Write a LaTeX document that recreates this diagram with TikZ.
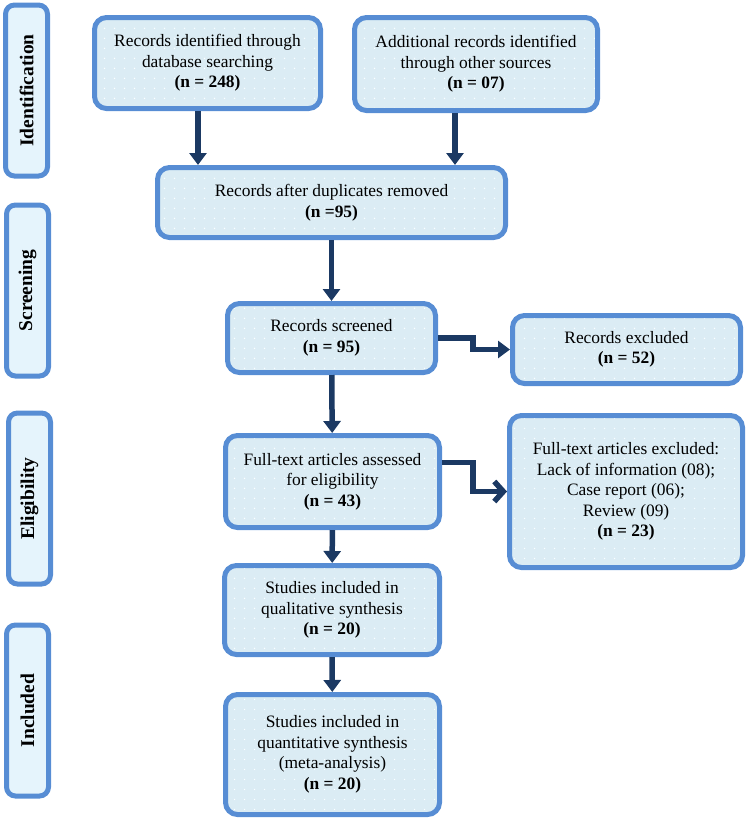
\documentclass[tikz,border=0pt]{standalone}
\usepackage{fontspec}
\setmainfont{Liberation Serif}
\usetikzlibrary{arrows.meta,patterns.meta}
\definecolor{edgeblue}{RGB}{87,141,212}
\definecolor{boxfill}{RGB}{219,236,244}
\definecolor{labfill}{RGB}{229,244,252}
\definecolor{arrowblue}{RGB}{27,57,99}
\tikzdeclarepattern{
  name=softdots,
  type=colored,
  bottom left={(0pt,0pt)},
  top right={(10pt,10pt)},
  tile size={(10pt,10pt)},
  code={\fill[white] (5pt,5pt) circle (0.8pt);}
}
\newcommand{\boxfont}{\fontsize{17.4}{20.5}\selectfont}
\newcommand{\labfont}{\fontsize{19.5}{22}\selectfont\bfseries}
\tikzset{
  stagebox/.style={draw=edgeblue, line width=5pt, rounded corners=12pt,
    preaction={fill=boxfill}, pattern=softdots, align=center, font=\boxfont},
  phase/.style={draw=edgeblue, line width=5pt, rounded corners=9pt,
    fill=labfill, rotate=90, minimum width=171pt, minimum height=42pt,
    font=\labfont},
  flow/.style={draw=arrowblue, line width=5.5pt,
    -{Triangle[width=17pt,length=12pt]}},
  flowbarb/.style={draw=arrowblue, line width=5.5pt,
    -{Straight Barb[width=20pt,length=9pt]}},
}
\begin{document}
\begin{tikzpicture}[x=1pt,y=-1pt]
\useasboundingbox (0,0) rectangle (750,823);

\node[phase] (idf) at (26.5,90.5) {Identification};
\node[phase] (scr) at (27.5,290.5) {Screening};
\node[phase] (elg) at (29.5,498.5) {Eligibility};
\node[phase] (inc) at (27.5,710.5) {Included};

\node[stagebox, minimum width=226pt, minimum height=91pt] (db) at (207.5,63)
  {Records identified through\\database searching\\\textbf{(n = 248)}};
\node[stagebox, minimum width=243pt, minimum height=93pt] (other) at (476,64)
  {Additional records identified\\through other sources\\\textbf{(n = 07)}};
\node[stagebox, minimum width=348pt, minimum height=70pt] (dup) at (331.5,202.5)
  {Records after duplicates removed\\\textbf{(n =95)}};
\node[stagebox, minimum width=208pt, minimum height=69pt] (scrd) at (331.5,338)
  {Records screened\\\textbf{(n = 95)}};
\node[stagebox, minimum width=228pt, minimum height=68pt] (excl) at (626.5,349.5)
  {Records excluded\\\textbf{(n = 52)}};
\node[stagebox, minimum width=214pt, minimum height=92pt] (full) at (332.5,481.5)
  {Full-text articles assessed\\for eligibility\\\textbf{(n = 43)}};
\node[stagebox, minimum width=233pt, minimum height=152pt] (fexcl) at (626,491.5)
  {Full-text articles excluded:\\Lack of information (08);\\Case report (06);\\Review (09)\\\textbf{(n = 23)}};
\node[stagebox, minimum width=215pt, minimum height=89pt] (qual) at (332,610)
  {Studies included in\\qualitative synthesis\\\textbf{(n = 20)}};
\node[stagebox, minimum width=214pt, minimum height=120pt] (quant) at (332.5,754.5)
  {Studies included in\\quantitative synthesis\\(meta-analysis)\\\textbf{(n = 20)}};

\draw[flow] ([xshift=-9.5pt]db.south) -- ([xshift=-9.5pt]db.south |- dup.north);
\draw[flow] ([xshift=-21pt]other.south) -- ([xshift=-21pt]other.south |- dup.north);
\draw[flow] (dup) -- (scrd);
\draw[flow] (scrd.east) -- ++(35,0) |- (excl.west);
\draw[flow] (scrd) -- (full);
\draw[flowbarb] ([yshift=19pt]full.east) -- ++(31,0) |- (fexcl.west);
\draw[flow] (full) -- (qual);
\draw[flow] (qual) -- (quant);
\end{tikzpicture}
\end{document}
